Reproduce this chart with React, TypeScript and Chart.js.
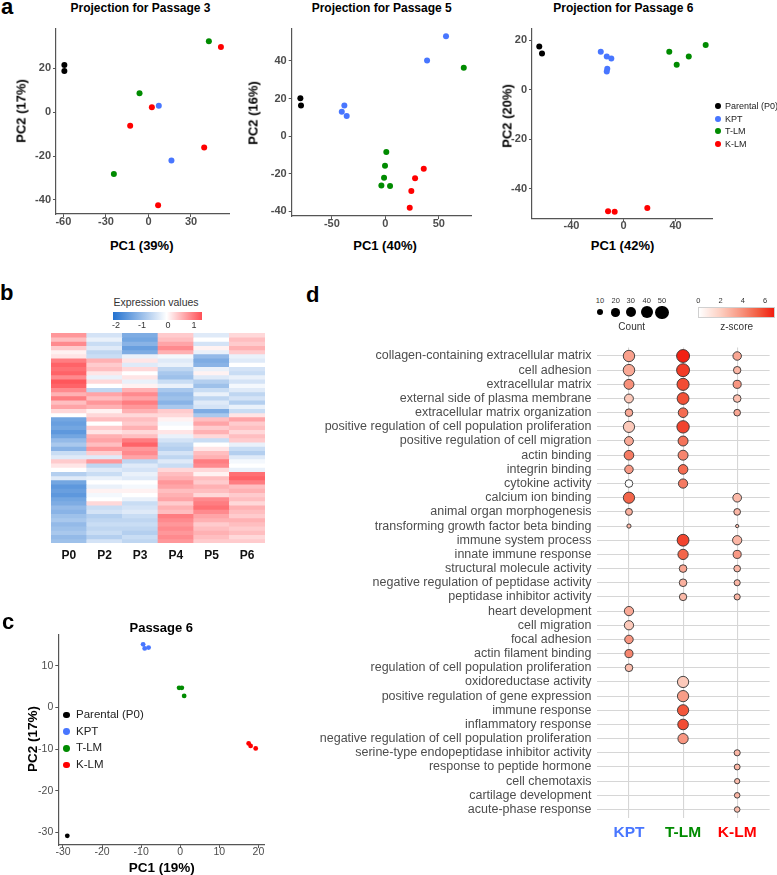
import React, { useEffect, useRef } from 'react';
import { Chart, registerables } from 'chart.js';

Chart.register(...registerables);
const FONT = '"Liberation Sans", Arial, Helvetica, sans-serif';
Chart.defaults.font.family = FONT;

// ---------- Groups ----------
const GROUPS = ['Parental (P0)', 'KPT', 'T-LM', 'K-LM'];
const GROUP_COLORS = ['#000000', '#4876ff', '#008b00', '#ff0000'];

// ---------- Panel a: Passage 3 ----------
const p3Parental = [[-59.3, 21.5], [-59.3, 18.8]];
const p3KPT = [[7.3, 2.9], [16.2, -22]];
const p3TLM = [[42.6, 32.3], [-6.3, 8.6], [-24.4, -28.2]];
const p3KLM = [[51.1, 29.7], [2.4, 2.3], [-12.9, -6.2], [39.3, -16.1], [6.8, -42.4]];
const p3XTicks = [-60, -30, 0, 30];
const p3YTicks = [-40, -20, 0, 20];

// ---------- Panel a: Passage 5 ----------
const p5Parental = [[-79.4, 20.1], [-78.8, 16.3]];
const p5KPT = [[-38.3, 16.3], [-40.7, 13], [-36.1, 10.7], [56.7, 53.1], [39, 40.2]];
const p5TLM = [[73.3, 36.4], [0.9, -8.5], [-0.3, -15.8], [-1.2, -22.1], [-3.7, -26.3], [4.4, -26.5]];
const p5KLM = [[35.9, -17.3], [27.8, -22.4], [24.3, -29.2], [22.8, -38.1]];
const p5XTicks = [-50, 0, 50];
const p5YTicks = [-40, -20, 0, 20, 40];

// ---------- Panel a: Passage 6 ----------
const p6Parental = [[-64.8, 17.4], [-62.7, 14.6]];
const p6KPT = [[-17.5, 15.3], [-12.9, 13.4], [-9.4, 12.6], [-12.5, 8.4], [-12.9, 7.3]];
const p6TLM = [[35.2, 15.3], [40.9, 10.1], [50.2, 13.4], [63.2, 18]];
const p6KLM = [[-11.9, -49.2], [-6.8, -49.4], [18.3, -47.8]];
const p6XTicks = [-40, 0, 40];
const p6YTicks = [-40, -20, 0, 20];

// ---------- Panel c ----------
const cParental = [[-28.9, -30.8]];
const cKPT = [[-9.5, 15.2], [-9.1, 14.2], [-8.1, 14.4]];
const cTLM = [[-0.3, 4.75], [0.4, 4.75], [1.0, 2.8]];
const cKLM = [[17.5, -8.6], [18.0, -9.2], [19.3, -9.8]];
const cXTicks = [-30, -20, -10, 0, 10, 20];
const cYTicks = [-30, -20, -10, 0, 10];

// ---------- Panel b: heatmap ----------
const heatLabels = ['P0', 'P2', 'P3', 'P4', 'P5', 'P6'];
const heatP0 = [0.8, 0.5, 0.9, 0.4, 0.1, 0.2, 1.0, 1.2, 1.1, 1.2, 0.9, 1.3, 1.2, 0.9, 0.6, 1.0, 0.5, 0.7, 0.3, 0.0,
  -1.3, -1.4, -1.3, -1.5, -1.3, -1.0, -0.8, -1.1, -0.5, -0.3, 0.4, 0.2, 0.0, -0.7, -0.3, -1.3, -1.5, -1.4, -1.5, -1.3,
  -1.2, -1.0, -1.1, -0.9, -0.8, -1.0, -0.9, -0.8, -1.0, -0.9];
const heatP2 = [-0.4, -0.2, -0.5, -0.3, -0.6, -0.5, 0.6, 0.4, 0.5, 0.2, -0.2, 0.3, 0.0, -0.6, 0.7, 0.5, 0.8, 0.6, 0.1, 0.3,
  0.5, 0.0, 0.4, 0.2, 0.6, 0.7, 0.5, 0.8, 0.4, -0.3, 0.8, -0.6, -0.3, -0.5, -0.2, 0.0, -0.2, 0.1, -0.1, 0.0,
  0.3, -0.5, -0.4, -0.7, -0.6, -0.5, -0.6, -0.5, -0.7, -0.4];
const heatP3 = [-1.2, -1.3, -1.1, -1.4, -1.2, -0.2, 0.2, -0.3, 0.3, 0.0, 0.2, -0.2, 0.1, 0.6, 0.9, 0.7, 1.0, 0.8, 0.6, 0.3,
  0.5, 0.4, 0.6, 0.3, 0.5, 1.0, 1.2, 0.8, 0.9, 0.7, -0.6, -0.3, -0.4, -0.2, -0.3, 0.0, -0.1, 0.1, 0.0, -0.2,
  -0.5, -0.4, -0.3, -0.5, -0.6, -0.5, -0.6, -0.7, -0.5, -0.6];
const heatP4 = [0.4, 0.5, 0.7, 0.9, 0.6, -0.1, -0.3, -0.2, -0.6, -0.8, -0.9, -0.5, -0.2, -0.8, -1.0, -0.9, -1.1, -0.8, 0.4, 0.3,
  0.1, -0.1, 0.0, 0.2, -0.2, -0.4, -0.6, -0.7, -0.4, -0.6, -0.3, -0.5, 0.3, 0.5, 0.6, 0.8, 0.7, 0.5, 0.6, 0.7,
  0.4, 0.6, 0.5, 1.0, 0.9, 0.8, 0.9, 0.8, 0.9, 0.8];
const heatP5 = [-0.3, 0.0, -0.4, 0.1, -0.2, -1.0, -1.2, -1.1, -0.2, 0.1, -0.3, -0.7, -0.9, -0.5, -0.2, -0.6, -0.3, -0.4, -1.2, -0.8,
  0.5, 0.7, 0.4, 0.6, 0.3, -0.5, 0.0, 0.2, 0.5, 0.6, 1.0, 0.9, 0.3, 0.1, 0.5, 0.4, 0.6, 0.5, 0.3, 0.9,
  1.0, 1.1, 0.9, 0.7, 0.6, 0.4, 0.5, 0.6, 0.5, 0.4];
const heatP6 = [0.3, 0.5, 0.4, 0.6, 0.4, -0.2, -0.3, 0.0, -0.4, -0.5, -0.2, -0.4, -0.1, -0.3, -0.6, -0.4, -0.7, -0.2, -0.5, 0.2,
  0.7, 0.4, 0.5, 0.3, 0.5, 0.4, -0.2, -0.5, -0.7, -0.3, -0.1, 0.0, -0.2, 1.1, 1.2, 1.0, 0.5, 0.6, 0.4, 0.5,
  0.3, 0.6, 0.5, 0.4, 0.6, 0.5, 0.4, 0.5, 0.3, 0.4];
const heatLegendTicks = [-2, -1, 0, 1];

// ---------- Panel d: GO dot plot ----------
const goTerms = [
  'collagen-containing extracellular matrix', 'cell adhesion', 'extracellular matrix',
  'external side of plasma membrane', 'extracellular matrix organization',
  'positive regulation of cell population proliferation', 'positive regulation of cell migration',
  'actin binding', 'integrin binding', 'cytokine activity', 'calcium ion binding',
  'animal organ morphogenesis', 'transforming growth factor beta binding', 'immune system process',
  'innate immune response', 'structural molecule activity', 'negative regulation of peptidase activity',
  'peptidase inhibitor activity', 'heart development', 'cell migration', 'focal adhesion',
  'actin filament binding', 'regulation of cell population proliferation', 'oxidoreductase activity',
  'positive regulation of gene expression', 'immune response', 'inflammatory response',
  'negative regulation of cell population proliferation', 'serine-type endopeptidase inhibitor activity',
  'response to peptide hormone', 'cell chemotaxis', 'cartilage development', 'acute-phase response',
];
const dGroups = ['KPT', 'T-LM', 'K-LM'];
const dGroupColors = ['#4876ff', '#008b00', '#ff0000'];
const N = null;
const kptCount = [37, 38, 28, 22, 16, 36, 22, 26, 20, 16, 36, 13, 4, N, N, N, N, N, 24, 24, 20, 18, 16, N, N, N, N, N, N, N, N, N, N];
const kptZ = [3.5, 3.2, 4.0, 2.2, 3.2, 2.2, 3.2, 4.6, 3.7, 0, 5.2, 3.0, 2.8, N, N, N, N, N, 3.2, 2.2, 3.8, 4.3, 2.5, N, N, N, N, N, N, N, N, N, N];
const tlmCount = [48, 48, 42, 40, 26, 44, 28, 28, 26, 24, N, N, N, 40, 30, 16, 16, 15, N, N, N, N, N, 36, 36, 36, 32, 30, N, N, N, N, N];
const tlmZ = [6.8, 6.2, 5.8, 5.7, 5.0, 6.0, 4.8, 4.3, 5.0, 4.6, N, N, N, 6.0, 5.2, 3.3, 3.0, 2.7, N, N, N, N, N, 2.2, 3.6, 5.6, 5.8, 3.8, N, N, N, N, N];
const klmCount = [20, 15, 18, 16, 12, N, N, N, N, N, 21, 12, 2, 24, 18, 12, 10, 10, N, N, N, N, N, N, N, N, N, N, 10, 9, 7, 8, 8];
const klmZ = [3.3, 2.8, 3.8, 2.5, 3.3, N, N, N, N, N, 2.7, 2.8, 2.5, 2.8, 3.7, 2.8, 2.8, 2.8, N, N, N, N, N, N, N, N, N, N, 2.8, 2.8, 2.6, 2.8, 2.6];
const countLegend = [10, 20, 30, 40, 50];
const zLegendTicks = [0, 2, 4, 6];

// ---------- Styling helpers ----------
const HEAT_STOPS: [number, string][] = [[-2.05, '#2372d0'], [0, '#ffffff'], [1.35, '#ff4f55']];
const Z_STOPS: [number, string][] = [[0, '#ffffff'], [2, '#fdcfc1'], [4, '#f7907a'], [5.5, '#f25a3e'], [6.9, '#f21d10']];
const Z_MAX = 6.9;

function hexToRgb(h: string) {
  const n = parseInt(h.slice(1), 16);
  return [(n >> 16) & 255, (n >> 8) & 255, n & 255];
}
function ramp(stops: [number, string][], v: number) {
  if (v <= stops[0][0]) return stops[0][1];
  for (let i = 1; i < stops.length; i++) {
    if (v <= stops[i][0]) {
      const t = (v - stops[i - 1][0]) / (stops[i][0] - stops[i - 1][0]);
      const A = hexToRgb(stops[i - 1][1]);
      const B = hexToRgb(stops[i][1]);
      return `rgb(${A.map((a, k) => Math.round(a + (B[k] - a) * t)).join(',')})`;
    }
  }
  return stops[stops.length - 1][1];
}
const countRadius = (c: number) => Math.sqrt(1 + 0.85 * c);

type Rect = { x: number; y: number; w: number; h: number };
type Plot = { l: number; t: number; r: number; b: number };

function scatterConfig(rect: Rect, plot: Plot, xr: number[], yr: number[], xTicks: number[], yTicks: number[],
  series: number[][][], radius: number, bold: boolean, fontSize: number): any {
  const font = { family: FONT, size: fontSize, weight: bold ? 'bold' : 'normal' };
  const axis = (min: number, max: number, ticks: number[], isX: boolean) => ({
    type: 'linear', min, max,
    afterBuildTicks: (s: any) => { s.ticks = ticks.map((v) => ({ value: v })); },
    afterFit: (s: any) => {
      if (isX) s.height = rect.y + rect.h - plot.b; else s.width = plot.l - rect.x;
    },
    ticks: { font, color: '#4d4d4d', padding: isX ? -2 : 2, maxRotation: 0, autoSkip: false },
    grid: { display: true, drawOnChartArea: false, drawTicks: true, tickLength: 3, color: '#555', lineWidth: 1 },
    border: { display: true, color: '#555', width: 1.2 },
  });
  return {
    type: 'scatter',
    data: {
      datasets: series.map((pts, i) => ({
        label: GROUPS[i],
        data: pts.map(([x, y]) => ({ x, y })),
        backgroundColor: GROUP_COLORS[i],
        borderWidth: 0,
        pointRadius: radius,
        pointHoverRadius: radius,
      })),
    },
    options: {
      responsive: false, animation: false, events: [],
      layout: { padding: { left: 0, top: plot.t - rect.y, right: rect.x + rect.w - plot.r, bottom: 0 } },
      plugins: { legend: { display: false }, tooltip: { enabled: false } },
      scales: { x: axis(xr[0], xr[1], xTicks, true), y: axis(yr[0], yr[1], yTicks, false) },
    },
  };
}

function heatConfig(rect: Rect, plot: Plot): any {
  const cols = [heatP0, heatP2, heatP3, heatP4, heatP5, heatP6];
  return {
    type: 'bar',
    data: {
      labels: heatLabels,
      datasets: heatP0.map((_, row) => ({
        data: cols.map(() => 1),
        backgroundColor: cols.map((col) => ramp(HEAT_STOPS, col[row])),
        borderWidth: 0,
        barPercentage: 1,
        categoryPercentage: 1,
        stack: 'rows',
      })),
    },
    options: {
      responsive: false, animation: false, events: [],
      layout: { padding: { left: plot.l - rect.x, top: plot.t - rect.y, right: rect.x + rect.w - plot.r, bottom: 0 } },
      plugins: { legend: { display: false }, tooltip: { enabled: false } },
      scales: {
        x: {
          stacked: true,
          afterFit: (s: any) => { s.height = rect.y + rect.h - plot.b; },
          grid: { display: false, drawTicks: false }, border: { display: false },
          ticks: { font: { family: FONT, size: 12, weight: 'bold' }, color: '#111', padding: 5, autoSkip: false, maxRotation: 0 },
        },
        y: { stacked: true, min: 0, max: heatP0.length, reverse: true, display: false },
      },
    },
  };
}

function dotConfig(rect: Rect, plot: Plot): any {
  const series = [[kptCount, kptZ], [tlmCount, tlmZ], [klmCount, klmZ]];
  return {
    type: 'bubble',
    data: {
      datasets: series.map(([counts, zs], ci) => ({
        label: dGroups[ci],
        data: counts
          .map((c, i) => (c == null ? null : { x: ci + 1, y: i + 1, r: countRadius(c as number), z: zs[i] as number }))
          .filter((p) => p !== null),
        backgroundColor: (ctx: any) => ramp(Z_STOPS, ctx.raw ? ctx.raw.z : 0),
        borderColor: '#333333',
        borderWidth: 0.9,
        hoverBorderWidth: 0.9,
        clip: false,
      })),
    },
    options: {
      responsive: false, animation: false, events: [],
      layout: { padding: { left: 0, top: plot.t - rect.y, right: rect.x + rect.w - plot.r, bottom: 0 } },
      plugins: { legend: { display: false }, tooltip: { enabled: false } },
      scales: {
        x: {
          type: 'linear', min: 0.4, max: 3.6,
          afterBuildTicks: (s: any) => { s.ticks = dGroups.map((_, i) => ({ value: i + 1 })); },
          afterFit: (s: any) => { s.height = rect.y + rect.h - plot.b; },
          ticks: {
            callback: (v: any) => dGroups[Math.round(Number(v)) - 1],
            color: (ctx: any) => dGroupColors[ctx.index] || '#000',
            font: { family: FONT, size: 15.5, weight: 'bold' }, padding: 5.5, autoSkip: false, maxRotation: 0,
          },
          grid: { color: '#d6d6d6', lineWidth: 1.1, drawTicks: false },
          border: { display: false },
        },
        y: {
          type: 'linear', min: 0.4, max: goTerms.length + 0.6, reverse: true,
          afterBuildTicks: (s: any) => { s.ticks = goTerms.map((_, i) => ({ value: i + 1 })); },
          afterFit: (s: any) => { s.width = plot.l - rect.x; },
          ticks: {
            callback: (v: any) => goTerms[Math.round(Number(v)) - 1],
            color: '#4d4d4d', font: { family: FONT, size: 12.5 }, padding: 5, autoSkip: false,
          },
          grid: { color: '#d6d6d6', lineWidth: 1.1, drawTicks: false },
          border: { display: false },
        },
      },
    },
  };
}

// ---------- Components ----------
function ChartCanvas({ rect, make }: { rect: Rect; make: () => any }) {
  const ref = useRef<HTMLCanvasElement>(null);
  useEffect(() => {
    if (!ref.current) return;
    const chart = new Chart(ref.current, make());
    return () => chart.destroy();
  }, []);
  return (
    <canvas ref={ref} width={rect.w} height={rect.h}
      style={{ position: 'absolute', left: rect.x, top: rect.y, width: rect.w, height: rect.h }} />
  );
}

function Txt(props: { x: number; y: number; s: number; b?: boolean; c?: string; a?: 'left' | 'center' | 'right'; r?: number; children: React.ReactNode }) {
  const { x, y, s, b, c = '#000', a = 'center', r = 0 } = props;
  const tx = a === 'center' ? '-50%' : a === 'right' ? '-100%' : '0';
  return (
    <div style={{
      position: 'absolute', left: x, top: y, fontFamily: FONT, fontSize: s, fontWeight: b ? 700 : 400,
      color: c, lineHeight: 1, whiteSpace: 'nowrap',
      transform: `translate(${tx},-50%)${r ? ` rotate(${r}deg)` : ''}`,
    }}>{props.children}</div>
  );
}

function Dot({ x, y, r, c }: { x: number; y: number; r: number; c: string }) {
  return <div style={{ position: 'absolute', left: x - r, top: y - r, width: 2 * r, height: 2 * r, borderRadius: '50%', background: c }} />;
}

const A1 = { rect: { x: 0, y: 20, w: 250, h: 216 }, plot: { l: 56, t: 29, r: 229, b: 214 } };
const A2 = { rect: { x: 250, y: 20, w: 245, h: 216 }, plot: { l: 291.7, t: 29, r: 471.7, b: 216 } };
const A3 = { rect: { x: 495, y: 20, w: 225, h: 216 }, plot: { l: 532, t: 29, r: 712.7, b: 218.3 } };
const C1 = { rect: { x: 0, y: 625, w: 280, h: 240 }, plot: { l: 58.3, t: 634.3, r: 264.3, b: 845 } };
const B1 = { rect: { x: 40, y: 328, w: 235, h: 245 }, plot: { l: 51, t: 333, r: 265, b: 543 } };
const D1 = { rect: { x: 290, y: 335, w: 487, h: 540 }, plot: { l: 596.5, t: 342, r: 776.5, b: 818 } };

export default function App() {
  const heatGradient = `linear-gradient(to right, ${HEAT_STOPS.map(([v, c]) =>
    `${c} ${((v - HEAT_STOPS[0][0]) / (HEAT_STOPS[HEAT_STOPS.length - 1][0] - HEAT_STOPS[0][0])) * 100}%`).join(', ')})`;
  const zGradient = `linear-gradient(to right, ${Z_STOPS.map(([v, c]) => `${c} ${(v / Z_MAX) * 100}%`).join(', ')})`;
  const countX = [600, 615.7, 630.7, 646.7, 662];
  const heatTickX = [116, 142, 168, 194];
  return (
    <div style={{ position: 'absolute', left: 0, top: 0, width: 777, height: 875, background: '#fff', overflow: 'hidden' }}>
      <ChartCanvas rect={A1.rect} make={() => scatterConfig(A1.rect, A1.plot, [-65.2, 56.8], [-46.4, 37.9], p3XTicks, p3YTicks, [p3Parental, p3KPT, p3TLM, p3KLM], 3, true, 11)} />
      <ChartCanvas rect={A2.rect} make={() => scatterConfig(A2.rect, A2.plot, [-87.5, 80.7], [-42.5, 57], p5XTicks, p5YTicks, [p5Parental, p5KPT, p5TLM, p5KLM], 3, true, 11)} />
      <ChartCanvas rect={A3.rect} make={() => scatterConfig(A3.rect, A3.plot, [-70.4, 68.6], [-52, 24.5], p6XTicks, p6YTicks, [p6Parental, p6KPT, p6TLM, p6KLM], 3, true, 11)} />
      <ChartCanvas rect={C1.rect} make={() => scatterConfig(C1.rect, C1.plot, [-31.2, 21.5], [-33, 17.6], cXTicks, cYTicks, [cParental, cKPT, cTLM, cKLM], 2.4, false, 10.5)} />
      <ChartCanvas rect={B1.rect} make={() => heatConfig(B1.rect, B1.plot)} />
      <ChartCanvas rect={D1.rect} make={() => dotConfig(D1.rect, D1.plot)} />

      {/* panel letters */}
      <Txt x={1} y={6.5} s={22} b a="left">a</Txt>
      <Txt x={0} y={292.9} s={22} b a="left">b</Txt>
      <Txt x={2} y={622} s={22} b a="left">c</Txt>
      <Txt x={306} y={294.7} s={22} b a="left">d</Txt>

      {/* panel a titles */}
      <Txt x={140.5} y={7.5} s={12} b>Projection for Passage 3</Txt>
      <Txt x={381.7} y={7.5} s={12} b>Projection for Passage 5</Txt>
      <Txt x={623.3} y={7.5} s={12} b>Projection for Passage 6</Txt>
      <Txt x={141.7} y={244.5} s={13} b>PC1 (39%)</Txt>
      <Txt x={385} y={244.5} s={13} b>PC1 (40%)</Txt>
      <Txt x={622.5} y={244.5} s={13} b>PC1 (42%)</Txt>
      <Txt x={20.7} y={110.5} s={13} b r={-90}>PC2 (17%)</Txt>
      <Txt x={253} y={113} s={13} b r={-90}>PC2 (16%)</Txt>
      <Txt x={507} y={115.8} s={13} b r={-90}>PC2 (20%)</Txt>

      {/* panel a legend */}
      {GROUPS.map((g, i) => (
        <React.Fragment key={g}>
          <Dot x={718.3} y={106 + i * 12.67} r={2.9} c={GROUP_COLORS[i]} />
          <Txt x={725} y={106 + i * 12.67} s={9} c="#222" a="left">{g}</Txt>
        </React.Fragment>
      ))}

      {/* panel b legend */}
      <Txt x={156} y={301.7} s={10.5} c="#333">Expression values</Txt>
      <div style={{ position: 'absolute', left: 113, top: 312, width: 89, height: 7.5, background: heatGradient }} />
      {heatLegendTicks.map((t, i) => (
        <Txt key={t} x={heatTickX[i]} y={324.5} s={9} c="#333">{String(t)}</Txt>
      ))}

      {/* panel c texts */}
      <Txt x={161.3} y={627} s={13} b>Passage 6</Txt>
      <Txt x={33} y={739} s={13.5} b r={-90}>PC2 (17%)</Txt>
      <Txt x={161.7} y={868} s={13.5} b>PC1 (19%)</Txt>
      {GROUPS.map((g, i) => (
        <React.Fragment key={'c' + g}>
          <Dot x={66.7} y={715 + i * 16.67} r={3.4} c={GROUP_COLORS[i]} />
          <Txt x={76} y={715 + i * 16.67} s={11.5} c="#222" a="left">{g}</Txt>
        </React.Fragment>
      ))}

      {/* panel d legends */}
      {countLegend.map((c, i) => (
        <React.Fragment key={'n' + c}>
          <Txt x={countX[i]} y={300.7} s={7.5} c="#333">{String(c)}</Txt>
          <Dot x={countX[i]} y={312.3} r={countRadius(c)} c="#000" />
        </React.Fragment>
      ))}
      <Txt x={631.7} y={327.3} s={10} c="#333">Count</Txt>
      <div style={{ position: 'absolute', left: 698.3, top: 307.3, width: 76.7, height: 10.4, background: zGradient, boxSizing: 'border-box', border: '0.5px solid #d0d0d0' }} />
      {zLegendTicks.map((t) => (
        <Txt key={'z' + t} x={698.3 + (t / Z_MAX) * 76.7} y={300.7} s={7.5} c="#333">{String(t)}</Txt>
      ))}
      <Txt x={736.7} y={327.3} s={10} c="#333">z-score</Txt>
    </div>
  );
}
